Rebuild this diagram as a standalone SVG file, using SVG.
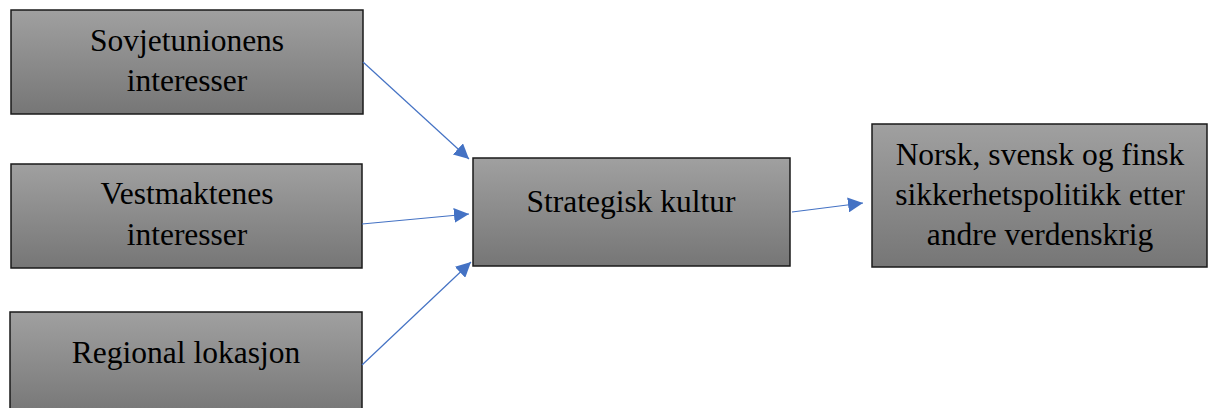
<svg xmlns="http://www.w3.org/2000/svg" width="1211" height="408" viewBox="0 0 1211 408">
<defs>
<linearGradient id="g" x1="0" y1="0" x2="0" y2="1">
<stop offset="0" stop-color="#a0a0a0"/>
<stop offset="1" stop-color="#767676"/>
</linearGradient>
<marker id="ah2" viewBox="0 0 10 10" markerWidth="15" markerHeight="15" refX="10" refY="5" orient="auto" markerUnits="userSpaceOnUse">
<path d="M0,0 L10,5 L0,10 Z" fill="#4472c4"/>
</marker>
</defs>
<style>
.box{fill:url(#g);stroke:#1a1a1a;stroke-width:1.5}
.t{font-family:"Liberation Serif","Times New Roman",serif;font-size:31.5px;fill:#000;text-anchor:middle}
.c{stroke:#4472c4;stroke-width:1.2;fill:none;marker-end:url(#ah2)}
</style>
<g id="n1"><rect class="box" x="11" y="10" width="352" height="104"/>
<text class="t" x="187" y="51">Sovjetunionens</text><text class="t" x="187" y="91">interesser</text></g>
<g id="n2"><rect class="box" x="11" y="164" width="351" height="104"/>
<text class="t" x="187" y="204">Vestmaktenes</text><text class="t" x="187" y="245">interesser</text></g>
<g id="n3"><rect class="box" x="10" y="312" width="352" height="104"/>
<text class="t" x="186" y="363">Regional lokasjon</text></g>
<g id="n4"><rect class="box" x="473" y="158" width="317" height="108"/>
<text class="t" x="631" y="212">Strategisk kultur</text></g>
<g id="n5"><rect class="box" x="872" y="124" width="335" height="143"/>
<text class="t" x="1040" y="165">Norsk, svensk og finsk</text><text class="t" x="1040" y="205">sikkerhetspolitikk etter</text><text class="t" x="1040" y="245">andre verdenskrig</text></g>
<g id="connectors">
<line class="c" x1="363" y1="62" x2="469" y2="159"/>
<line class="c" x1="362" y1="224" x2="469" y2="214"/>
<line class="c" x1="362" y1="365" x2="471" y2="262"/>
<line class="c" x1="792" y1="212" x2="863" y2="203"/>
</g>
</svg>
